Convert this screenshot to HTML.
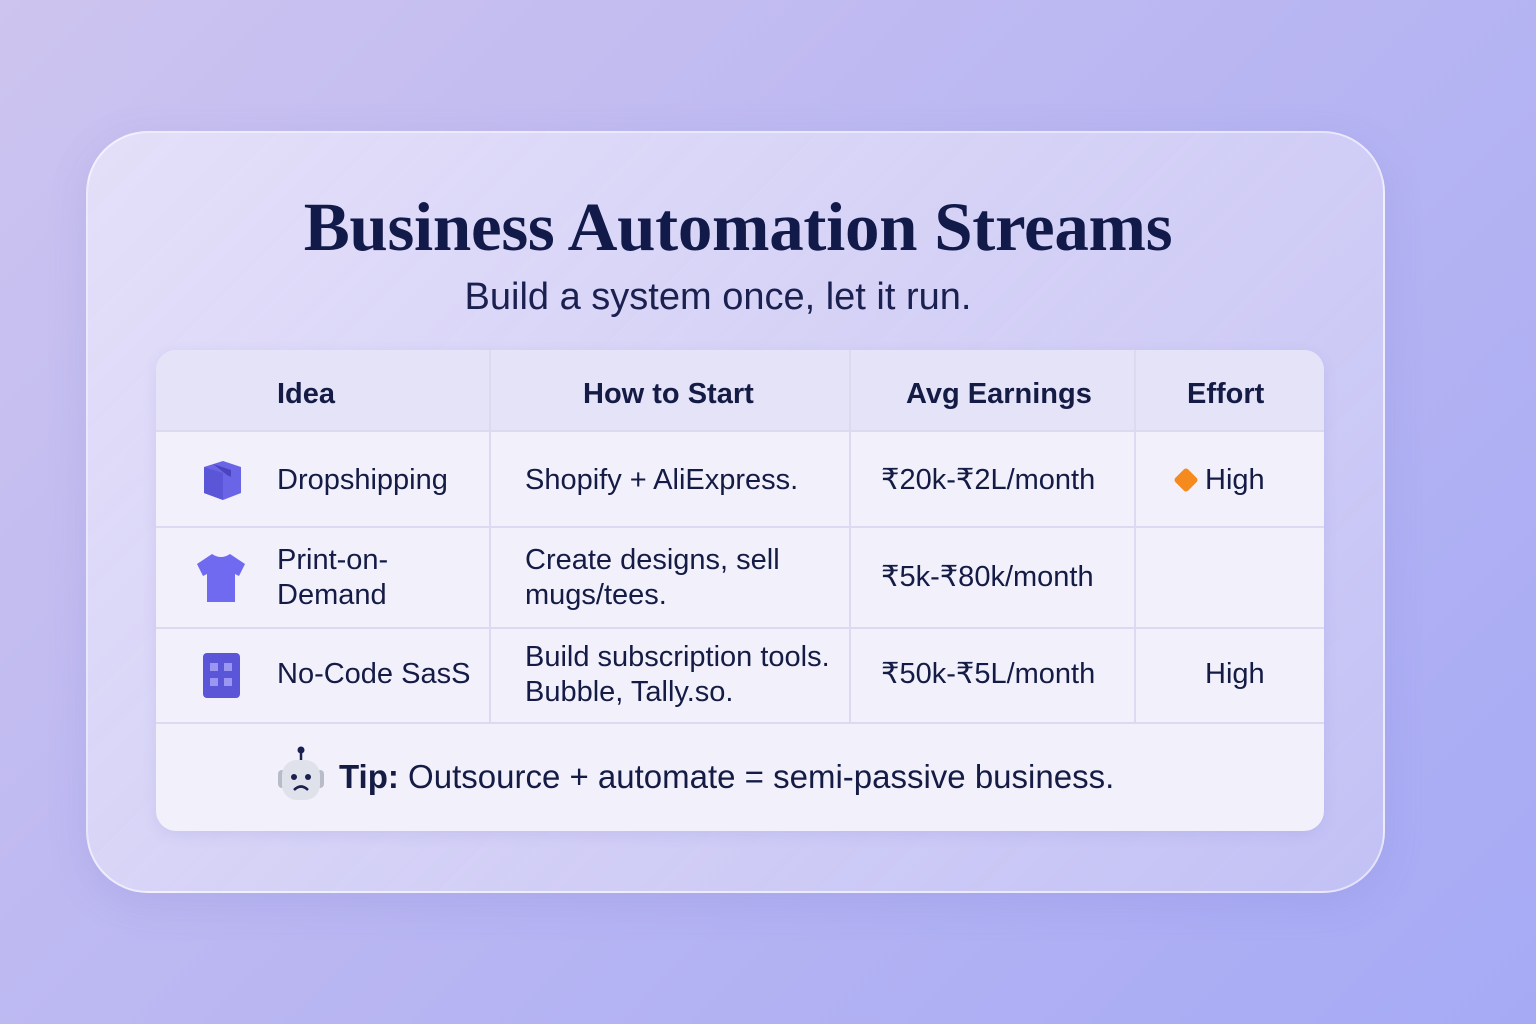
<!DOCTYPE html>
<html><head><meta charset="utf-8"><style>
*{margin:0;padding:0;box-sizing:border-box}
body{width:1536px;height:1024px;overflow:hidden;background:linear-gradient(135deg,#cdc4ef 0%,#b9b6f2 50%,#a6aaf5 100%);font-family:"Liberation Sans","DejaVu Sans",sans-serif;color:#111a40;position:relative}
.card{position:absolute;left:86px;top:131px;width:1299px;height:762px;border-radius:62px;background:linear-gradient(135deg,rgba(232,228,250,.85),rgba(205,202,245,.7));border:2px solid rgba(255,255,255,.55);box-shadow:0 10px 40px rgba(100,100,200,.15)}
h1{position:absolute;left:0;width:1476px;top:188px;text-align:center;font-family:"Liberation Serif",serif;font-size:69px;font-weight:bold;color:#121a4a;letter-spacing:-0.3px}
.sub{position:absolute;left:0;width:1436px;top:276px;text-align:center;font-size:38px;color:#1a2050}
.tbl{position:absolute;left:156px;top:350px;width:1168px;height:481px;border-radius:20px;background:#f1f0fb;overflow:hidden;box-shadow:0 4px 14px rgba(100,100,200,.12)}
.hdr{position:absolute;left:0;top:0;width:1168px;height:80px;background:#e5e3f7}
.vl{position:absolute;top:0;height:372px;width:2px;background:#dcdaf0}
.hl{position:absolute;left:0;width:1168px;height:2px;background:#dcdaf0}
.t{position:absolute;font-size:29px;line-height:35px;color:#141b45;white-space:nowrap}
.b{font-weight:600}
</style></head><body>
<div class="card"></div>
<h1>Business Automation Streams</h1>
<div class="sub">Build a system once, let it run.</div>
<div class="tbl">
<div class="hdr"></div>
<div class="vl" style="left:333px"></div>
<div class="vl" style="left:693px"></div>
<div class="vl" style="left:978px"></div>
<div class="hl" style="top:80px"></div>
<div class="hl" style="top:176px"></div>
<div class="hl" style="top:277px"></div>
<div class="hl" style="top:372px"></div>
<div class="t b" style="left:121px;top:27px">Idea</div>
<div class="t b" style="left:427px;top:27px">How to Start</div>
<div class="t b" style="left:750px;top:27px">Avg Earnings</div>
<div class="t b" style="left:1031px;top:27px">Effort</div>
<svg style="position:absolute;left:45px;top:109px" width="42" height="42" viewBox="0 0 42 42"><path d="M3 8 L22 2 L40 8 L40 34 L22 41 L3 34Z" fill="#6a64e6"/><path d="M3 8 L22 14 L22 41 L3 34Z" fill="#5b55d8"/><path d="M12 5 L30 11 L30 18 L26 16 L16 8Z" fill="#4a44c0"/></svg>
<div class="t" style="left:121px;top:113px">Dropshipping</div>
<div class="t" style="left:369px;top:113px">Shopify + AliExpress.</div>
<div class="t" style="left:725px;top:113px">₹20k-₹2L/month</div>
<div style="position:absolute;left:1021px;top:121px;width:18px;height:18px;background:#f58a1f;transform:rotate(45deg);border-radius:3px"></div>
<div class="t" style="left:1049px;top:113px">High</div>
<svg style="position:absolute;left:39px;top:202px" width="52" height="52" viewBox="0 0 52 52"><path d="M17 2 Q26 8 35 2 L50 12 L44 24 L40 22 L40 50 L12 50 L12 22 L8 24 L2 12Z" fill="#6f6af0"/></svg>
<div class="t" style="left:121px;top:193px">Print-on-<br>Demand</div>
<div class="t" style="left:369px;top:193px">Create designs, sell<br>mugs/tees.</div>
<div class="t" style="left:725px;top:210px">₹5k-₹80k/month</div>
<svg style="position:absolute;left:47px;top:303px" width="37" height="45" viewBox="0 0 37 45"><rect width="37" height="45" rx="4" fill="#5b55d8"/><rect x="7" y="10" width="8" height="8" fill="#9a96f2"/><rect x="21" y="10" width="8" height="8" fill="#9a96f2"/><rect x="7" y="25" width="8" height="8" fill="#9a96f2"/><rect x="21" y="25" width="8" height="8" fill="#9a96f2"/></svg>
<div class="t" style="left:121px;top:307px">No-Code SasS</div>
<div class="t" style="left:369px;top:290px">Build subscription tools.<br>Bubble, Tally.so.</div>
<div class="t" style="left:725px;top:307px">₹50k-₹5L/month</div>
<div class="t" style="left:1049px;top:307px">High</div>
<svg style="position:absolute;left:120px;top:396px" width="50" height="56" viewBox="0 0 50 56"><line x1="25" y1="4" x2="25" y2="14" stroke="#1a2050" stroke-width="2.5"/><circle cx="25" cy="4" r="3.5" fill="#1a2050"/><rect x="2" y="24" width="8" height="18" rx="4" fill="#b8bcc8"/><rect x="40" y="24" width="8" height="18" rx="4" fill="#b8bcc8"/><rect x="6" y="14" width="38" height="40" rx="15" fill="#dfe2ea"/><circle cx="18" cy="31" r="3" fill="#1a2050"/><circle cx="32" cy="31" r="3" fill="#1a2050"/><path d="M18 44 Q25 37 32 44" stroke="#1a2050" stroke-width="2.5" fill="none"/></svg>
<div class="t" style="left:183px;top:408px;font-size:33px;line-height:38px"><b>Tip:</b> Outsource + automate = semi-passive business.</div>
</div>
</body></html>
